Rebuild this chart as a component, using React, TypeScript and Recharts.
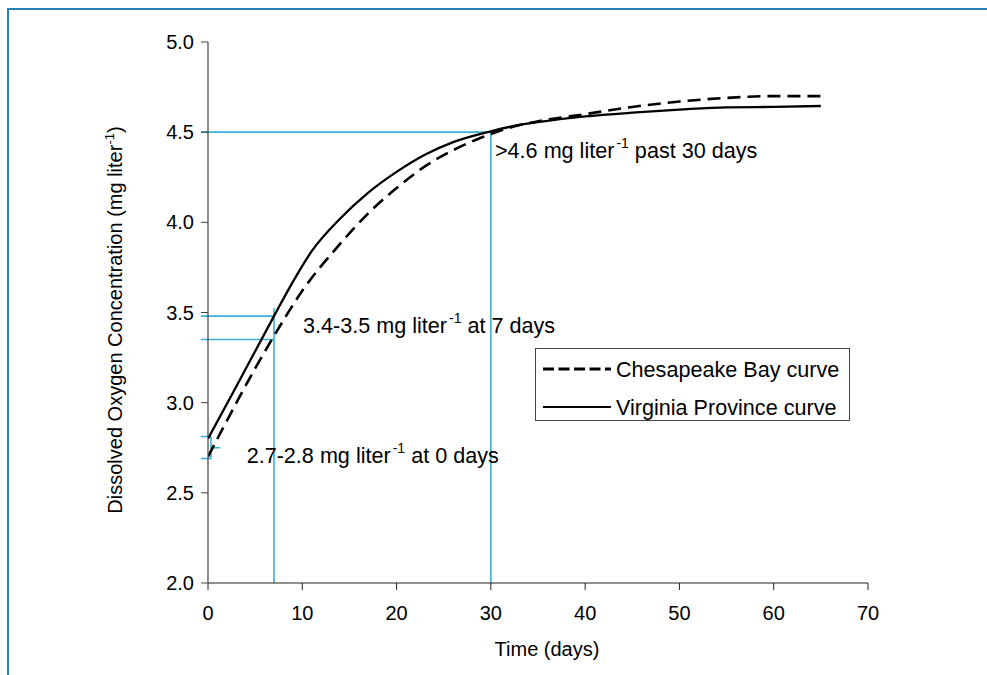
import React from 'react';
import { LineChart, Line, XAxis, YAxis, ReferenceLine, ReferenceDot, Legend, Label } from 'recharts';

const FONT = '"Liberation Sans", Arial, Helvetica, sans-serif';
const GUIDE = '#36b2d8';

// Chesapeake Bay curve (dashed)
const chesapeakeDays = [0, 1.5, 5, 7, 10, 14, 17, 20, 23, 26, 29, 32, 35, 40, 45, 50, 55, 60, 65];
const chesapeakeDO = [2.7, 2.85, 3.19, 3.37, 3.62, 3.88, 4.05, 4.19, 4.31, 4.4, 4.47, 4.525, 4.56, 4.6, 4.64, 4.67, 4.69, 4.7, 4.7];

// Virginia Province curve (solid)
const virginiaDays = [0, 3, 7, 9, 11, 14, 17, 20, 23, 26, 30, 33, 36, 40, 45, 50, 55, 60, 65];
const virginiaDO = [2.8, 3.09, 3.48, 3.67, 3.84, 4.02, 4.165, 4.28, 4.375, 4.445, 4.505, 4.54, 4.563, 4.587, 4.608, 4.625, 4.638, 4.64, 4.645];

const xTicks = [0, 10, 20, 30, 40, 50, 60, 70];
const yTicks = [2.0, 2.5, 3.0, 3.5, 4.0, 4.5, 5.0];

// guide segments [x1, y1, x2, y2] in data units
const guideSegments = [
  [-0.75, 4.5, 30, 4.5],
  [30, 2.0, 30, 4.5],
  [-0.75, 3.48, 7, 3.48],
  [-0.75, 3.35, 7, 3.35],
  [7, 2.0, 7, 3.525],
  [-0.75, 2.812, 0.32, 2.812],
  [0.32, 2.69, 0.32, 2.812],
  [-0.75, 2.69, 0.32, 2.69],
  [0.32, 2.75, 1.3, 2.75],
];

// annotation anchors (text start, baseline) in data units
const noteX = [30.44, 10.08, 4.1];
const noteY = [4.357, 3.386, 2.665];
const notePre = ['>4.6 mg liter', '3.4-3.5 mg liter', '2.7-2.8 mg liter'];
const notePost = [' past 30 days', ' at 7 days', ' at 0 days'];

const legendNames = ['Chesapeake Bay curve', 'Virginia Province curve'];

const chesapeakeData = chesapeakeDays.map((d, i) => ({ day: d, value: chesapeakeDO[i] }));
const virginiaData = virginiaDays.map((d, i) => ({ day: d, value: virginiaDO[i] }));

const LegendBox = () => (
  <div
    style={{
      position: 'relative',
      width: 315,
      height: 73,
      border: '1px solid #444',
      boxSizing: 'border-box',
      background: '#fff',
      fontFamily: FONT,
      color: '#000',
    }}
  >
    <svg width={315} height={73} style={{ position: 'absolute', left: -1, top: -1 }}>
      <line x1={8} y1={21} x2={76} y2={21} stroke="#000" strokeWidth={3} strokeDasharray="11 4.5" />
      <line x1={8} y1={59} x2={76} y2={59} stroke="#000" strokeWidth={2} />
      <text x={81} y={21} dy="0.36em" fontSize={21.6} fontFamily={FONT} fill="#000">{legendNames[0]}</text>
      <text x={81} y={59} dy="0.36em" fontSize={21.6} fontFamily={FONT} fill="#000">{legendNames[1]}</text>
    </svg>
  </div>
);

export default function App() {
  return (
    <div style={{ position: 'absolute', left: 0, top: 0, width: 987, height: 675, background: '#fff' }}>
      <div
        style={{
          position: 'absolute',
          left: 7,
          top: 8,
          right: 0,
          bottom: 0,
          borderTop: '2px solid #2a80b3',
          borderLeft: '2px solid #2a80b3',
          pointerEvents: 'none',
        }}
      />
      <LineChart
        width={987}
        height={675}
        margin={{ top: 42, right: 119, left: 148, bottom: 62 }}
        style={{ fontFamily: FONT, position: 'absolute', left: 0, top: 0 }}
      >
        <XAxis
          dataKey="day"
          type="number"
          domain={[0, 70]}
          ticks={xTicks}
          allowDataOverflow
          height={30}
          tickSize={7}
          tickMargin={16}
          axisLine={{ stroke: '#222', strokeWidth: 1.2 }}
          tickLine={{ stroke: '#222' }}
          tick={{ fill: '#000', fontSize: 20, fontFamily: FONT }}
        >
          <Label
            content={(p: any) => {
              const vb = p.viewBox || { x: 208, y: 583, width: 660 };
              return (
                <text x={vb.x + vb.width / 2 + 9} y={vb.y + 73} textAnchor="middle" fontSize={20} fontFamily={FONT} fill="#000">
                  Time (days)
                </text>
              );
            }}
          />
        </XAxis>
        <YAxis
          type="number"
          domain={[2, 5]}
          ticks={yTicks}
          allowDataOverflow
          width={60}
          tickSize={7}
          tickMargin={7}
          tickFormatter={(v: number) => v.toFixed(1)}
          axisLine={{ stroke: '#444', strokeWidth: 1.2 }}
          tickLine={{ stroke: '#444' }}
          tick={{ fill: '#000', fontSize: 20, fontFamily: FONT }}
        >
          <Label
            content={(p: any) => {
              const vb = p.viewBox || { x: 148, y: 42, width: 60, height: 541 };
              const cx = vb.x - 26;
              const cy = vb.y + vb.height / 2 + 7.5;
              return (
                <text
                  x={cx}
                  y={cy}
                  transform={`rotate(-90 ${cx} ${cy})`}
                  textAnchor="middle"
                  fontSize={20}
                  fontFamily={FONT}
                  fill="#000"
                >
                  Dissolved Oxygen Concentration (mg liter
                  <tspan fontSize={13} dy={-8}>-1</tspan>
                  <tspan dy={8}>)</tspan>
                </text>
              );
            }}
          />
        </YAxis>

        {guideSegments.map((s, i) => (
          <ReferenceLine
            key={'g' + i}
            segment={[{ x: s[0], y: s[1] }, { x: s[2], y: s[3] }]}
            stroke={GUIDE}
            strokeWidth={1.6}
            ifOverflow="visible"
          />
        ))}

        <Line
          data={chesapeakeData}
          dataKey="value"
          name={legendNames[0]}
          type="monotone"
          stroke="#000"
          strokeWidth={2.6}
          strokeDasharray="13 7"
          dot={false}
          activeDot={false}
          isAnimationActive={false}
        />
        <Line
          data={virginiaData}
          dataKey="value"
          name={legendNames[1]}
          type="monotone"
          stroke="#000"
          strokeWidth={2.3}
          dot={false}
          activeDot={false}
          isAnimationActive={false}
        />

        {noteX.map((x, i) => (
          <ReferenceDot
            key={'n' + i}
            x={x}
            y={noteY[i]}
            r={0}
            ifOverflow="visible"
            shape={(p: any) => (
              <text x={p.cx} y={p.cy} fontSize={21.6} fontFamily={FONT} fill="#000">
                {notePre[i]}
                <tspan fontSize={14} dx={2} dy={-10}>-1</tspan>
                <tspan dy={10}>{notePost[i]}</tspan>
              </text>
            )}
          />
        ))}

        <Legend
          layout="horizontal"
          verticalAlign="middle"
          align="center"
          content={() => <LegendBox />}
          wrapperStyle={{ left: 535, top: 348, width: 315, height: 73 }}
        />
      </LineChart>
    </div>
  );
}
